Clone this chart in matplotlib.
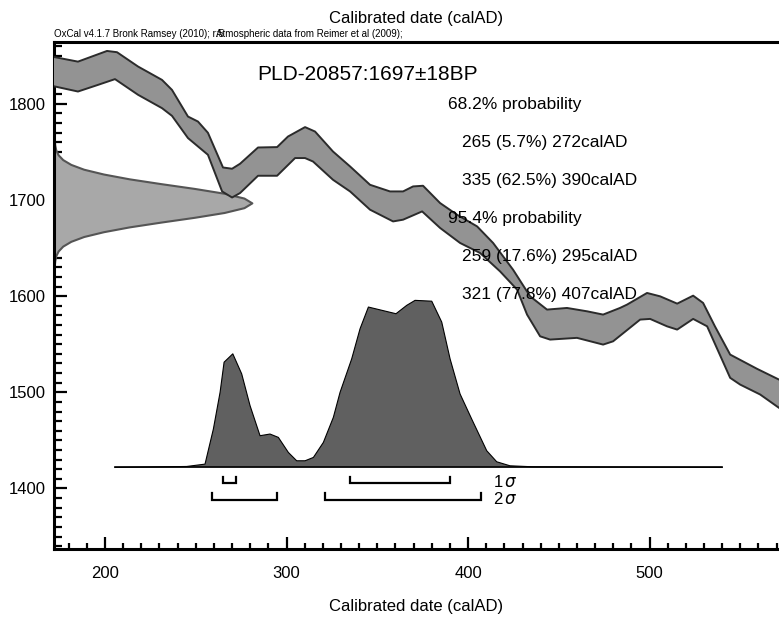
"""OxCal-style calibration plot for PLD-20857 (1697 +/- 18 BP)."""
import matplotlib
matplotlib.use("Agg")
import matplotlib.pyplot as plt
from matplotlib.ticker import MultipleLocator

plt.rcParams["font.family"] = ["Liberation Sans", "DejaVu Sans"]

# calibration curve band, upper edge (calAD, BP)
curve_hi_x = [170, 172.5, 185.1, 201.1, 206.6, 218.2, 231.4, 236.9, 245.7, 251.2,
              256.7, 265.0, 270.0, 274.4, 284.3, 294.8, 300.8, 310.2, 315.7, 325.6,
              335.0, 346.0, 357.0, 364.2, 369.7, 375.2, 384.6, 393.9, 405.0, 413.8,
              424.8, 434.2, 443.5, 454.5, 465.6, 474.4, 483.7, 487.6, 498.6, 505.8,
              515.2, 524.0, 529.5, 536.0, 544.4, 559.2, 571.3, 575]
curve_hi_y = [1849, 1848.5, 1843.9, 1855.0, 1853.7, 1838.8, 1824.9, 1814.5, 1786.8, 1781.6,
              1769.9, 1733.8, 1732.5, 1737.7, 1754.6, 1755.0, 1766.0, 1775.8, 1771.2, 1750.4,
              1734.9, 1715.8, 1708.9, 1708.9, 1714.1, 1714.8, 1696.8, 1684.7, 1672.5, 1655.3,
              1627.5, 1599.8, 1586.0, 1587.7, 1584.2, 1580.8, 1587.7, 1591.2, 1603.3, 1599.8,
              1592.2, 1600.5, 1592.9, 1568.6, 1539.2, 1524.4, 1513.2, 1510]
# calibration curve band, lower edge
curve_lo_x = [170, 172.5, 185.1, 196.1, 205.5, 218.2, 231.4, 236.9, 245.7, 256.7,
              264.5, 270.0, 274.4, 284.3, 294.8, 304.7, 310.2, 314.6, 325.6, 335.0,
              346.0, 358.7, 364.2, 374.7, 384.6, 395.6, 406.6, 417.6, 427.0, 432.5,
              439.7, 445.2, 460.0, 474.4, 479.9, 494.8, 500.3, 509.6, 515.2, 524.0,
              531.7, 544.4, 549.9, 560.9, 571.3, 575]
curve_lo_y = [1819, 1818.0, 1812.8, 1819.7, 1825.7, 1809.4, 1795.5, 1787.5, 1764.4, 1747.0,
              1708.9, 1702.6, 1707.2, 1725.2, 1725.2, 1743.6, 1743.6, 1740.0, 1721.0, 1708.9,
              1689.9, 1677.7, 1679.5, 1688.1, 1670.9, 1655.3, 1644.9, 1625.8, 1606.8, 1580.8,
              1558.2, 1554.8, 1556.6, 1549.6, 1553.0, 1575.6, 1576.3, 1568.6, 1565.2, 1576.3,
              1568.6, 1515.0, 1508.0, 1497.7, 1483.8, 1480]

# radiocarbon determination (BP) and its relative density
c14_bp = [1632, 1637, 1642, 1647, 1652, 1657, 1662, 1667, 1672, 1677, 1682, 1687, 1692,
          1697, 1702, 1707, 1712, 1717, 1722, 1727, 1732, 1737, 1742, 1747, 1752, 1757, 1762]
c14_dens = [0.0015, 0.004, 0.009, 0.021, 0.044, 0.085, 0.15, 0.25, 0.38, 0.54, 0.71, 0.86, 0.96,
            1.0, 0.96, 0.86, 0.71, 0.54, 0.38, 0.25, 0.15, 0.085, 0.044, 0.021, 0.009, 0.004, 0.0015]

# calibrated probability (calAD, relative)
cal_x = [205.5, 245.0, 255.1, 259.7, 263.4, 265.6, 270.4, 275.3, 279.9, 285.4, 290.9,
         295.5, 301.0, 305.6, 310.2, 314.8, 320.3, 325.8, 329.5, 335.9, 340.5, 345.1,
         360.3, 366.2, 370.8, 380.0, 385.5, 390.1, 395.6, 402.0, 410.3, 415.8, 423.1,
         435.8, 540.0]
cal_p = [0.0, 0.006, 0.02, 0.23, 0.45, 0.63, 0.68, 0.56, 0.37, 0.19, 0.20,
         0.18, 0.09, 0.04, 0.04, 0.06, 0.15, 0.30, 0.45, 0.65, 0.83, 0.96,
         0.92, 0.97, 1.0, 0.995, 0.87, 0.65, 0.44, 0.29, 0.10, 0.034, 0.01,
         0.004, 0.0]

sigma1_ranges = [(265, 272), (335, 390)]
sigma1_pct = [5.7, 62.5]
sigma2_ranges = [(259, 295), (321, 407)]
sigma2_pct = [17.6, 77.8]

sample = "PLD-20857"
c14_age, c14_err = 1697, 18

XLIM = (171.9, 571.3)
YLIM = (1337, 1864)
CAL_BASE = 1421.8   # baseline of calibrated distribution (BP axis units)
CAL_SCALE = 173.8   # height of calibrated peak in BP units
C14_SCALE = 109.0   # width of c14 peak in calAD units

fig = plt.figure(figsize=(7.79, 6.26), dpi=100)
ax = fig.add_axes([54 / 779, 77 / 626, 725 / 779, 506.7 / 626])

# radiocarbon measurement on y axis
ax.fill_betweenx(c14_bp, XLIM[0], [XLIM[0] + d * C14_SCALE for d in c14_dens],
                 facecolor="#a8a8a8", edgecolor="#555555", linewidth=1.5, zorder=2)

# calibration curve band
band_x = curve_hi_x + curve_lo_x[::-1]
band_y = curve_hi_y + curve_lo_y[::-1]
ax.fill(band_x, band_y, facecolor="#939393", edgecolor="none", zorder=3)
ax.plot(curve_hi_x, curve_hi_y, color="#2b2b2b", linewidth=1.4, zorder=3)
ax.plot(curve_lo_x, curve_lo_y, color="#2b2b2b", linewidth=1.4, zorder=3)

# calibrated distribution
cal_y = [CAL_BASE + p * CAL_SCALE for p in cal_p]
ax.fill_between(cal_x, CAL_BASE, cal_y, facecolor="#606060", edgecolor="none", zorder=4)
ax.plot(cal_x, cal_y, color="black", linewidth=0.8, zorder=4)
ax.plot([cal_x[0], cal_x[-1]], [CAL_BASE, CAL_BASE], color="black", linewidth=1.2, zorder=4)

# sigma range brackets
for ranges, yb in [(sigma1_ranges, 1405.2), (sigma2_ranges, 1387.8)]:
    for lo, hi in ranges:
        ax.plot([lo, lo, hi, hi], [yb + 7, yb, yb, yb + 7], color="black",
                linewidth=1.6, solid_joinstyle="miter", zorder=5)
ax.text(413.5, 1406.5, r"1$\,\sigma$", fontsize=12, va="center", ha="left")
ax.text(413.5, 1388.5, r"2$\,\sigma$", fontsize=12, va="center", ha="left")

# text block
ax.text(283.7, 1831, f"{sample}:{c14_age}\u00b1{c14_err}BP", fontsize=15,
        ha="left", va="center", zorder=6)
lines = [("68.2% probability", 388.8)]
lines += [(f"{lo} ({p}%) {hi}calAD", 396.9) for (lo, hi), p in zip(sigma1_ranges, sigma1_pct)]
lines += [("95.4% probability", 388.8)]
lines += [(f"{lo} ({p}%) {hi}calAD", 396.9) for (lo, hi), p in zip(sigma2_ranges, sigma2_pct)]
for i, (s, x) in enumerate(lines):
    ax.text(x, 1799.5 - i * 39.6, s, fontsize=12.5, ha="left", va="center", zorder=6)

ax.set_xlim(*XLIM)
ax.set_ylim(*YLIM)
ax.xaxis.set_major_locator(MultipleLocator(100))
ax.xaxis.set_minor_locator(MultipleLocator(10))
ax.yaxis.set_major_locator(MultipleLocator(100))
ax.yaxis.set_minor_locator(MultipleLocator(10))
ax.tick_params(which="both", direction="in", top=False, right=False, labelsize=12, width=1.6)
ax.tick_params(axis="x", which="major", length=9, pad=12)
ax.tick_params(axis="x", which="minor", length=4)
ax.tick_params(axis="y", which="major", length=9, pad=6)
ax.tick_params(axis="y", which="minor", length=6)
for side in ["left", "bottom", "top"]:
    ax.spines[side].set_linewidth(2.2)
ax.spines["right"].set_visible(False)

# axis labels (top and bottom) and OxCal header
fig.text(416.5 / 779, 1 - 607 / 626, "Calibrated date (calAD)", fontsize=12,
         ha="center", va="center")
fig.text(416.5 / 779, 1 - 18 / 626, "Calibrated date (calAD)", fontsize=12,
         ha="center", va="center")
fig.text(54 / 779, 1 - 34 / 626, "OxCal v4.1.7 Bronk Ramsey (2010); r:5", fontsize=7,
         ha="left", va="center")
fig.text(216 / 779, 1 - 34 / 626, "Atmospheric data from Reimer et al (2009);", fontsize=7,
         ha="left", va="center")

fig.savefig("out.png", dpi=100)
